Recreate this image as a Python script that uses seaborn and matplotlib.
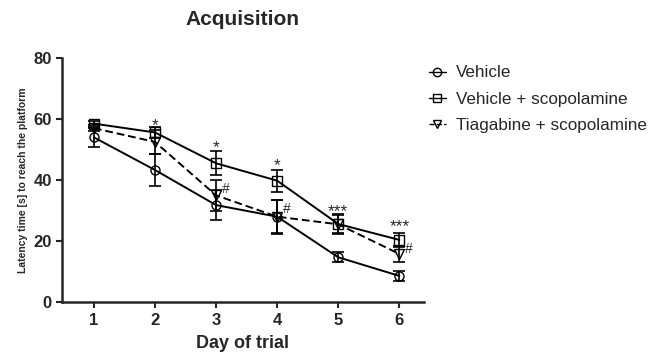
#!/usr/bin/env python3

import matplotlib

matplotlib.use("Agg")

import matplotlib.pyplot as plt
import pandas as pd
import seaborn as sns

days = [1, 2, 3, 4, 5, 6]

groups = ["Vehicle", "Vehicle + scopolamine", "Tiagabine + scopolamine"]

vehicle_mean = [54.0, 43.3, 31.8, 28.0, 14.7, 8.6]
vehicle_sem = [3.2, 5.2, 4.8, 5.6, 1.6, 1.6]

scop_mean = [58.5, 55.6, 45.5, 39.8, 25.6, 20.4]
scop_sem = [1.0, 1.8, 4.0, 3.6, 3.4, 2.2]

tiag_mean = [57.0, 52.5, 35.0, 28.0, 25.5, 15.8]
tiag_sem = [1.0, 4.0, 5.0, 5.4, 3.0, 2.6]

# significance marks: (day, y, text)
star_days = [2, 3, 4, 5, 6]
star_y = [58.0, 50.5, 44.8, 29.8, 24.8]
star_text = ["*", "*", "*", "***", "***"]

hash_days = [3, 4, 6]
hash_y = [37.0, 30.5, 17.5]


def main():
    sns.set_style("ticks")
    plt.rcParams["font.family"] = ["Liberation Sans", "DejaVu Sans"]

    means = [vehicle_mean, scop_mean, tiag_mean]
    sems = [vehicle_sem, scop_sem, tiag_sem]

    df = pd.DataFrame(
        [
            {"day": d, "latency": m, "group": g}
            for g, series in zip(groups, means)
            for d, m in zip(days, series)
        ]
    )

    fig = plt.figure(figsize=(6.54, 3.58), dpi=100)
    ax = fig.add_axes([0.095, 0.156, 0.553, 0.682])

    markers = {groups[0]: "o", groups[1]: "s", groups[2]: "v"}
    dashes = {groups[0]: "", groups[1]: "", groups[2]: (4, 2)}
    palette = {g: "black" for g in groups}

    sns.lineplot(
        data=df,
        x="day",
        y="latency",
        hue="group",
        style="group",
        markers=markers,
        dashes=dashes,
        palette=palette,
        markersize=6.5,
        markerfacecolor="none",
        markeredgecolor="black",
        markeredgewidth=1.0,
        linewidth=1.4,
        ax=ax,
        legend=False,
    )

    for m, s in zip(means, sems):
        ax.errorbar(
            days,
            m,
            yerr=s,
            fmt="none",
            ecolor="black",
            elinewidth=1.2,
            capsize=4.5,
            capthick=1.2,
        )

    for d, y, t in zip(star_days, star_y, star_text):
        ax.text(d, y, t, ha="center", va="center", fontsize=12.5)

    for d, y in zip(hash_days, hash_y):
        ax.text(d + 0.09, y, "#", ha="left", va="center", fontsize=10)

    ax.set_xlim(0.48, 6.4)
    ax.set_ylim(0, 80)
    ax.set_xticks(days)
    ax.set_yticks([0, 20, 40, 60, 80])
    ax.tick_params(axis="both", labelsize=12, width=1.5, length=4)
    for lab in ax.get_xticklabels() + ax.get_yticklabels():
        lab.set_fontweight("bold")

    sns.despine(ax=ax)
    for side in ["left", "bottom"]:
        ax.spines[side].set_linewidth(1.8)

    ax.set_xlabel("Day of trial", fontsize=13, fontweight="bold", labelpad=5)
    ax.set_ylabel(
        "Latency time [s] to reach the platform",
        fontsize=7.5,
        fontweight="bold",
        labelpad=4,
    )
    ax.set_title("Acquisition", fontsize=15, fontweight="bold", pad=24)

    handles = [
        plt.Line2D(
            [],
            [],
            color="black",
            marker=markers[g],
            markerfacecolor="none",
            markersize=6,
            linewidth=1.0,
            linestyle="--" if g == groups[2] else "-",
        )
        for g in groups
    ]
    fig.legend(
        handles,
        groups,
        loc="upper left",
        bbox_to_anchor=(0.632, 0.86),
        bbox_transform=fig.transFigure,
        frameon=False,
        fontsize=12.3,
        handlelength=1.0,
        handletextpad=0.6,
        labelspacing=0.65,
    )

    fig.savefig("out.png", dpi=100)
    plt.close(fig)


if __name__ == "__main__":
    main()
